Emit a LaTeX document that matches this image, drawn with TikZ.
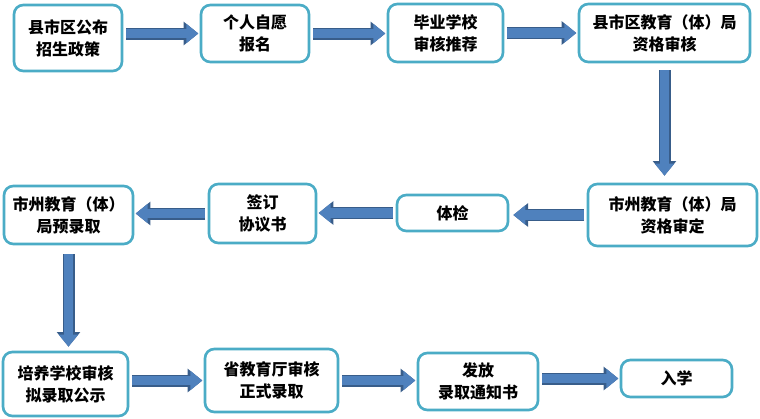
\documentclass[tikz,border=0pt]{standalone}
\usepackage{fontspec}
\setmainfont{Noto Sans CJK SC}
\usepackage{xcolor}
\usepackage{tikz}
\usetikzlibrary{positioning, arrows.meta}
\definecolor{framecyan}{HTML}{4BACC6}
\definecolor{flowblue}{HTML}{4F81BD}
\definecolor{flowedge}{HTML}{385D8A}

\begin{document}
\begin{tikzpicture}[
  x=0.75pt, y=-0.75pt,
  proc/.style 2 args={
    rectangle, rounded corners=7pt, draw=framecyan, fill=white, line width=2pt,
    minimum width=#1, minimum height=#2,
    font=\fontsize{12pt}{16.5pt}\selectfont\bfseries, align=center, inner sep=2pt
  },
  flow/.style={
    draw=flowblue, line width=7pt, shorten <=2pt, shorten >=1pt,
    -{Triangle[width=14pt,length=9pt]},
    preaction={draw=flowedge, line width=9pt, -{Triangle[width=17pt,length=11pt]}}
  },
]
\useasboundingbox (0,0) rectangle (760,418);

% Row 1
\node[proc={81pt}{49.5pt}] (b1) at (68,38) {县市区公布\\招生政策};
\node[proc={81pt}{42.75pt}] (b2) at (255,33.5) {个人自愿\\报名};
\node[proc={86.25pt}{43.5pt}] (b3) at (445.5,33) {毕业学校\\审核推荐};
\node[proc={128.25pt}{43.5pt}] (b4) at (664.5,33) {县市区教育（体）局\\资格审核};

% Row 2
\node[proc={126.75pt}{46.5pt}] (b5) at (672.5,215) {市州教育（体）局\\资格审定};
\node[proc={83.25pt}{27pt}] (b6) at (452.5,213) {体检};
\node[proc={80.25pt}{44.25pt}] (b7) at (262.5,213.5) {签订\\协议书};
\node[proc={96.75pt}{43.5pt}] (b8) at (68.5,215) {市州教育（体）\\局预录取};

% Row 3
\node[proc={93.75pt}{48pt}] (b9) at (65.5,384) {培养学校审核\\拟录取公示};
\node[proc={99.75pt}{47.25pt}] (b10) at (271.5,380.5) {省教育厅审核\\正式录取};
\node[proc={90pt}{42.75pt}] (b11) at (478,381.5) {发放\\录取通知书};
\node[proc={83.25pt}{27.75pt}] (b12) at (676.5,378.5) {入学};

% Connectors
\draw[flow] (b2.west -| b1.east) -- (b2.west);
\draw[flow] (b2.east) -- (b2.east -| b3.west);
\draw[flow] (b3.east) -- (b3.east -| b4.west);
\draw[flow, shorten <=5.25pt, shorten >=5.25pt] (b4.south) -- (b4.south |- b5.north);
\draw[flow, shorten >=3pt] (b5.west) -- (b5.west -| b6.east);
\draw[flow] (b6.west) -- (b6.west -| b7.east);
\draw[flow] (b7.west) -- (b7.west -| b8.east);
\draw[flow, shorten <=6.75pt, shorten >=3pt] (b8.south) -- (b8.south |- b9.north);
\draw[flow] (b10.west -| b9.east) -- (b10.west);
\draw[flow] (b10.east) -- (b10.east -| b11.west);
\draw[flow] (b12.west -| b11.east) -- (b12.west);

\end{tikzpicture}
\end{document}
